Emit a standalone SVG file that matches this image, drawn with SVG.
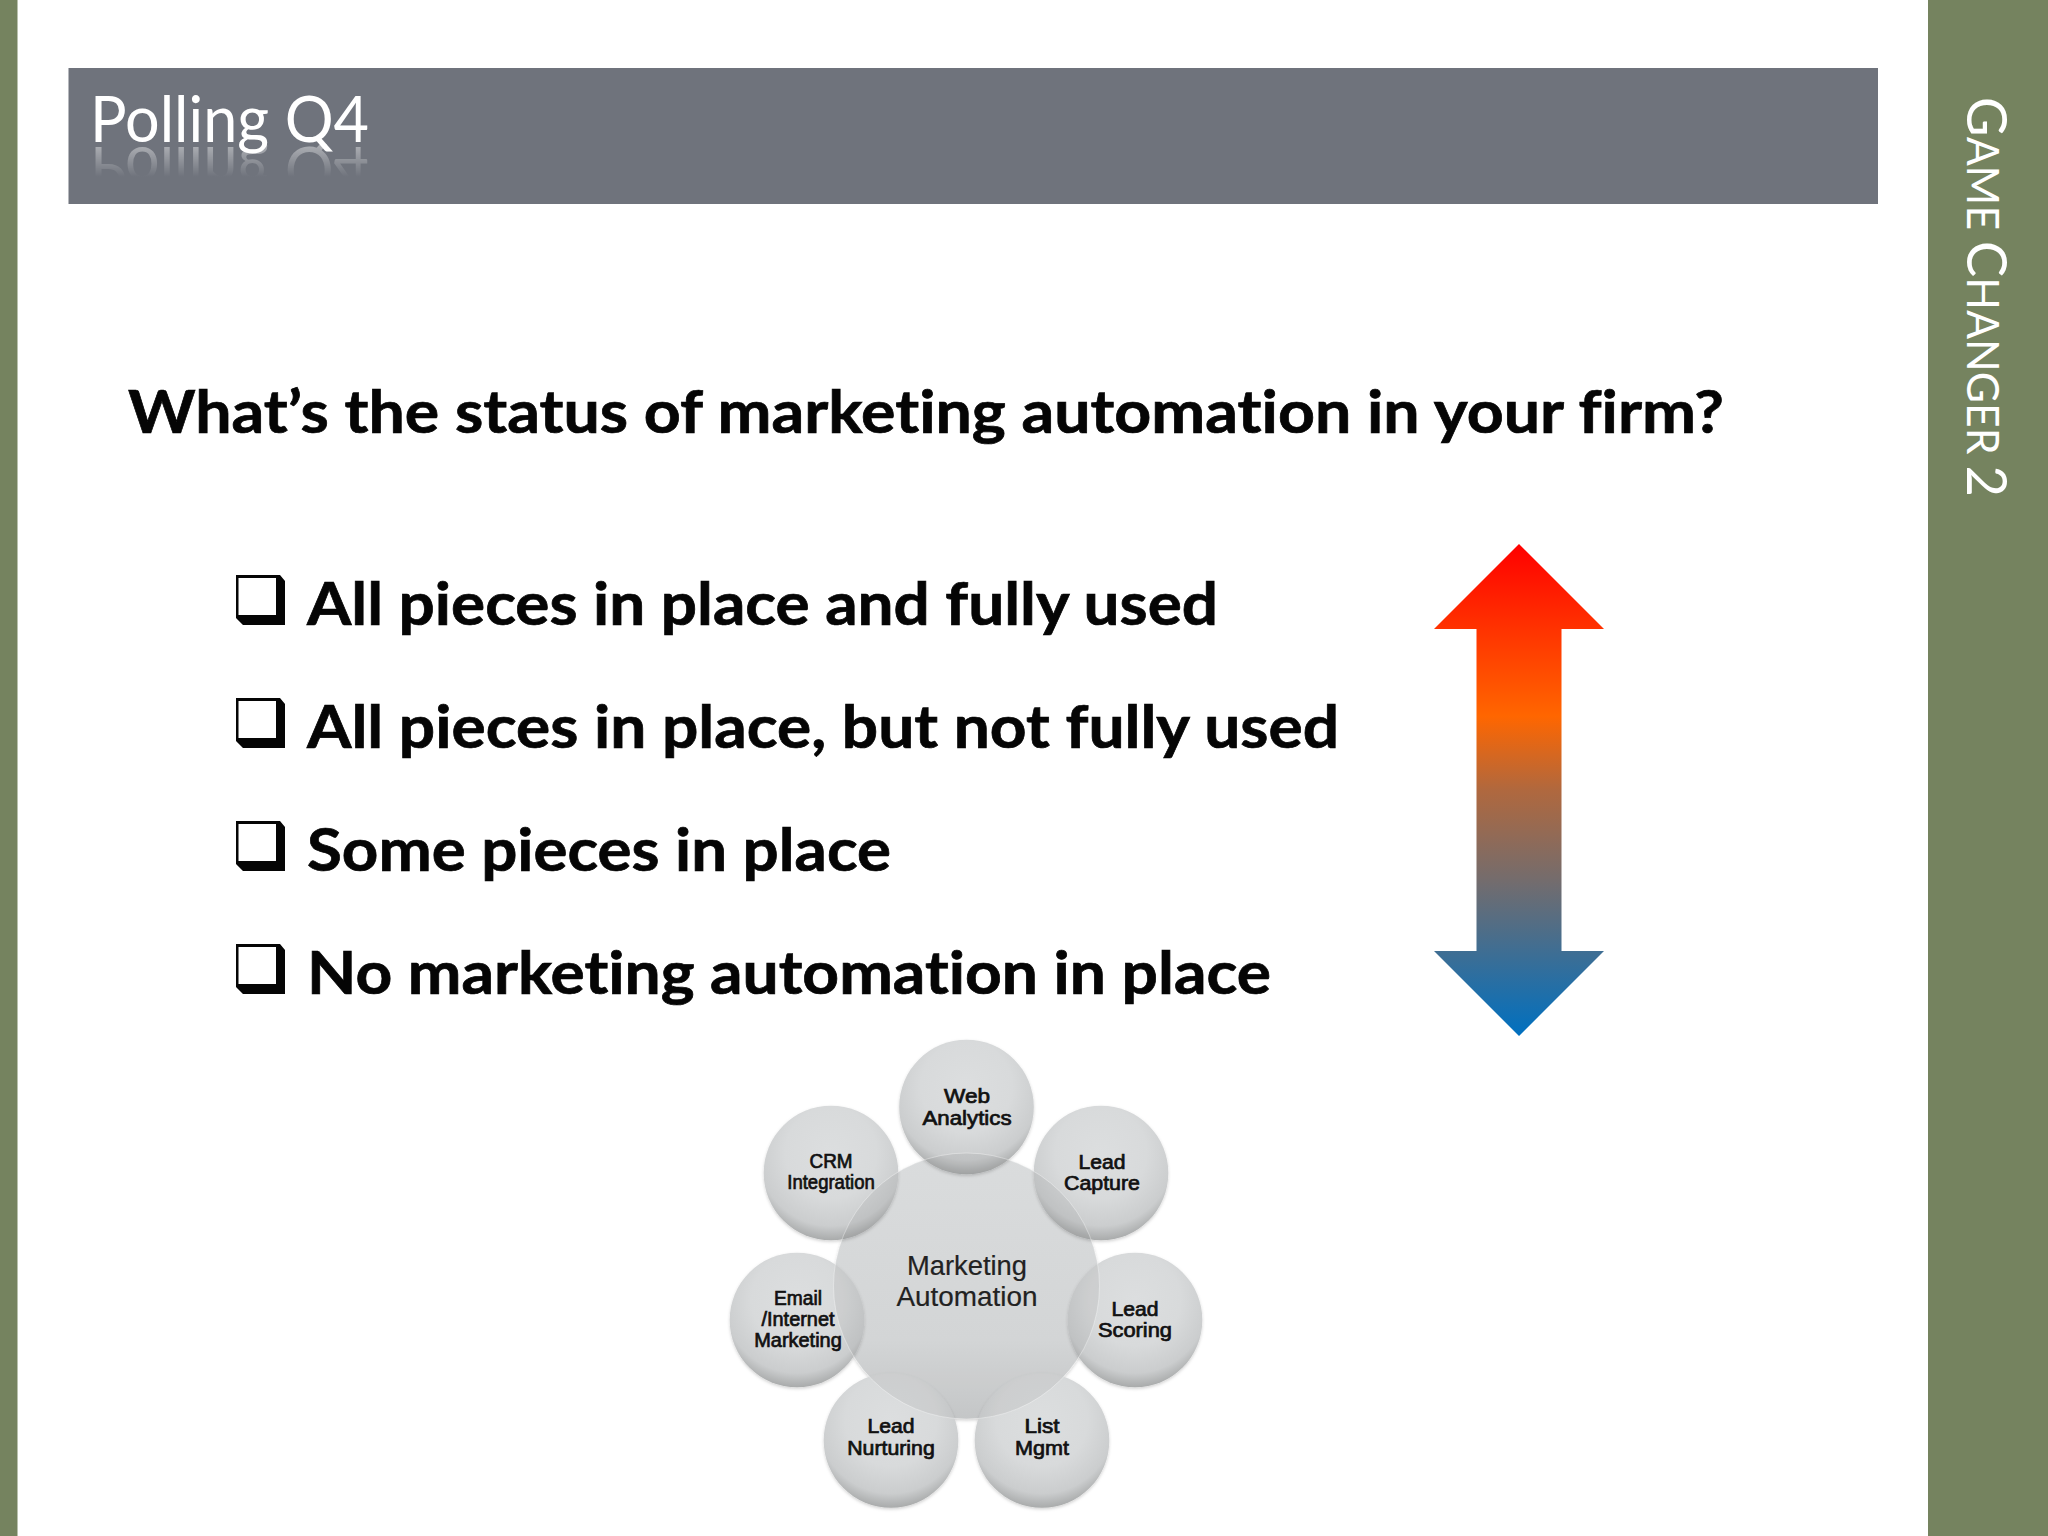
<svg xmlns="http://www.w3.org/2000/svg" width="2048" height="1536" viewBox="0 0 2048 1536">
<style>
.ui{font-family:Lato,"Open Sans","Noto Sans",sans-serif;font-variant-ligatures:none}
.q{font-weight:700;font-size:60px;fill:#050505;stroke:#050505;stroke-width:.7}
.lbl{font-family:"Liberation Sans",Arial,sans-serif;font-size:19.5px;fill:#111;stroke:#111;stroke-width:.7;text-anchor:middle}
.ctr{font-family:"Liberation Sans",Arial,sans-serif;font-size:27.5px;fill:#222;stroke:#222;stroke-width:.2;text-anchor:middle}
.sat{fill:url(#sat);filter:url(#sh)}
.rim{fill:none;stroke:#fff;stroke-opacity:.35;stroke-width:1}
</style>
<defs>
<linearGradient id="arrow" gradientUnits="userSpaceOnUse" x1="0" y1="544" x2="0" y2="1036">
<stop offset="0" stop-color="#ff0000"/><stop offset=".35" stop-color="#ff6600"/><stop offset=".5" stop-color="#b0683e"/><stop offset=".68" stop-color="#756c6c"/><stop offset="1" stop-color="#0070c0"/>
</linearGradient>
<radialGradient id="sat" cx=".5" cy=".35" r=".68">
<stop offset="0" stop-color="#dcdedf"/><stop offset=".5" stop-color="#d8dadb"/><stop offset=".8" stop-color="#cbcdce"/><stop offset="1" stop-color="#9fa1a1"/>
</radialGradient>
<linearGradient id="core" x1="0" y1="0" x2="0" y2="1">
<stop offset="0" stop-color="#e6e8e9"/><stop offset=".7" stop-color="#dfe1e2"/><stop offset="1" stop-color="#cfd1d2"/>
</linearGradient>
<filter id="sh" x="-20%" y="-20%" width="140%" height="140%"><feDropShadow dx="0" dy="1.5" stdDeviation="1.5" flood-color="#000" flood-opacity=".18"/></filter>
<linearGradient id="fade" gradientUnits="userSpaceOnUse" x1="0" y1="146" x2="0" y2="177">
<stop offset="0" stop-color="#fff" stop-opacity=".42"/><stop offset="1" stop-color="#fff" stop-opacity="0"/>
</linearGradient>
<mask id="refl" maskUnits="userSpaceOnUse" x="80" y="144" width="310" height="40"><rect x="80" y="144" width="310" height="40" fill="url(#fade)"/></mask>
<g id="box"><path fill-rule="evenodd" fill="#050505" d="M236 575H280L285 581V625H243L236 618ZM238.5 578V615H276V578Z"/></g>
</defs>
<rect width="2048" height="1536" fill="#fff"/>
<g id="side-left"><rect width="17.5" height="1536" fill="#75835f"/></g>
<g id="side-right"><rect x="1928" width="120" height="1536" fill="#75835f"/>
<text class="ui" transform="translate(1967,97) rotate(90)" fill="#fff" font-size="45" textLength="400" lengthAdjust="spacingAndGlyphs"><tspan font-size="57">G</tspan>AME <tspan font-size="57">C</tspan>HANGER <tspan font-size="57">2</tspan></text></g>
<g id="title-bar"><rect x="68.5" y="68" width="1809.5" height="136" fill="#6f737c"/>
<text class="ui" x="90" y="142" fill="#fff" font-size="63" textLength="279" lengthAdjust="spacingAndGlyphs">Polling Q4</text>
<g mask="url(#refl)" aria-hidden="true"><text class="ui" transform="translate(90,147) scale(1,-1)" fill="#fff" font-size="63" textLength="279" lengthAdjust="spacingAndGlyphs">Polling Q4</text></g></g>
<g id="question"><text class="ui q" x="128" y="433" textLength="1596" lengthAdjust="spacingAndGlyphs">What’s the status of marketing automation in your firm?</text></g>
<g id="option-1"><use href="#box"/><text class="ui q" x="307" y="625" textLength="911" lengthAdjust="spacingAndGlyphs">All pieces in place and fully used</text></g>
<g id="option-2"><use href="#box" y="123"/><text class="ui q" x="307" y="748" textLength="1032" lengthAdjust="spacingAndGlyphs">All pieces in place, but not fully used</text></g>
<g id="option-3"><use href="#box" y="246"/><text class="ui q" x="307" y="871" textLength="584" lengthAdjust="spacingAndGlyphs">Some pieces in place</text></g>
<g id="option-4"><use href="#box" y="369"/><text class="ui q" x="307" y="994" textLength="964" lengthAdjust="spacingAndGlyphs">No marketing automation in place</text></g>
<g id="scale-arrow"><path fill="url(#arrow)" d="M1519 544L1604 629H1561.5V951H1604L1519 1036L1434 951H1476.5V629H1434Z"/></g>
<g id="node-center"><circle cx="966.5" cy="1286" r="133" fill="url(#core)" filter="url(#sh)"/></g>
<g id="node-web"><circle class="sat" cx="966.5" cy="1107" r="67.3"/></g>
<g id="node-capture"><circle class="sat" cx="1101" cy="1173" r="67.3"/></g>
<g id="node-scoring"><circle class="sat" cx="1135" cy="1320" r="67.3"/></g>
<g id="node-list"><circle class="sat" cx="1042" cy="1440.5" r="67.3"/></g>
<g id="node-nurturing"><circle class="sat" cx="891" cy="1440.5" r="67.3"/></g>
<g id="node-email"><circle class="sat" cx="797" cy="1320" r="67.3"/></g>
<g id="node-crm"><circle class="sat" cx="831" cy="1173" r="67.3"/></g>
<g id="center-overlay"><circle cx="966.5" cy="1286" r="133" fill="#000" fill-opacity=".05"/><circle class="rim" cx="966.5" cy="1286" r="133"/></g>
<g id="labels">
<text class="ctr" x="967" y="1275" textLength="120" lengthAdjust="spacingAndGlyphs">Marketing</text><text class="ctr" x="967" y="1306" textLength="141" lengthAdjust="spacingAndGlyphs">Automation</text>
<text class="lbl" x="967" y="1103" textLength="46" lengthAdjust="spacingAndGlyphs">Web</text><text class="lbl" x="967" y="1125" textLength="89" lengthAdjust="spacingAndGlyphs">Analytics</text>
<text class="lbl" x="1102" y="1169" textLength="47" lengthAdjust="spacingAndGlyphs">Lead</text><text class="lbl" x="1102" y="1190" textLength="76" lengthAdjust="spacingAndGlyphs">Capture</text>
<text class="lbl" x="1135" y="1316" textLength="47" lengthAdjust="spacingAndGlyphs">Lead</text><text class="lbl" x="1135" y="1337" textLength="74" lengthAdjust="spacingAndGlyphs">Scoring</text>
<text class="lbl" x="1042" y="1433" textLength="35" lengthAdjust="spacingAndGlyphs">List</text><text class="lbl" x="1042" y="1455" textLength="54" lengthAdjust="spacingAndGlyphs">Mgmt</text>
<text class="lbl" x="891" y="1433" textLength="47" lengthAdjust="spacingAndGlyphs">Lead</text><text class="lbl" x="891" y="1455" textLength="87.5" lengthAdjust="spacingAndGlyphs">Nurturing</text>
<text class="lbl" x="798" y="1305" textLength="48" lengthAdjust="spacingAndGlyphs">Email</text><text class="lbl" x="798" y="1326" textLength="73" lengthAdjust="spacingAndGlyphs">/Internet</text><text class="lbl" x="798" y="1346.5" textLength="87.5" lengthAdjust="spacingAndGlyphs">Marketing</text>
<text class="lbl" x="831" y="1168" textLength="43" lengthAdjust="spacingAndGlyphs">CRM</text><text class="lbl" x="831" y="1189" textLength="87.5" lengthAdjust="spacingAndGlyphs">Integration</text>
</g>
</svg>
